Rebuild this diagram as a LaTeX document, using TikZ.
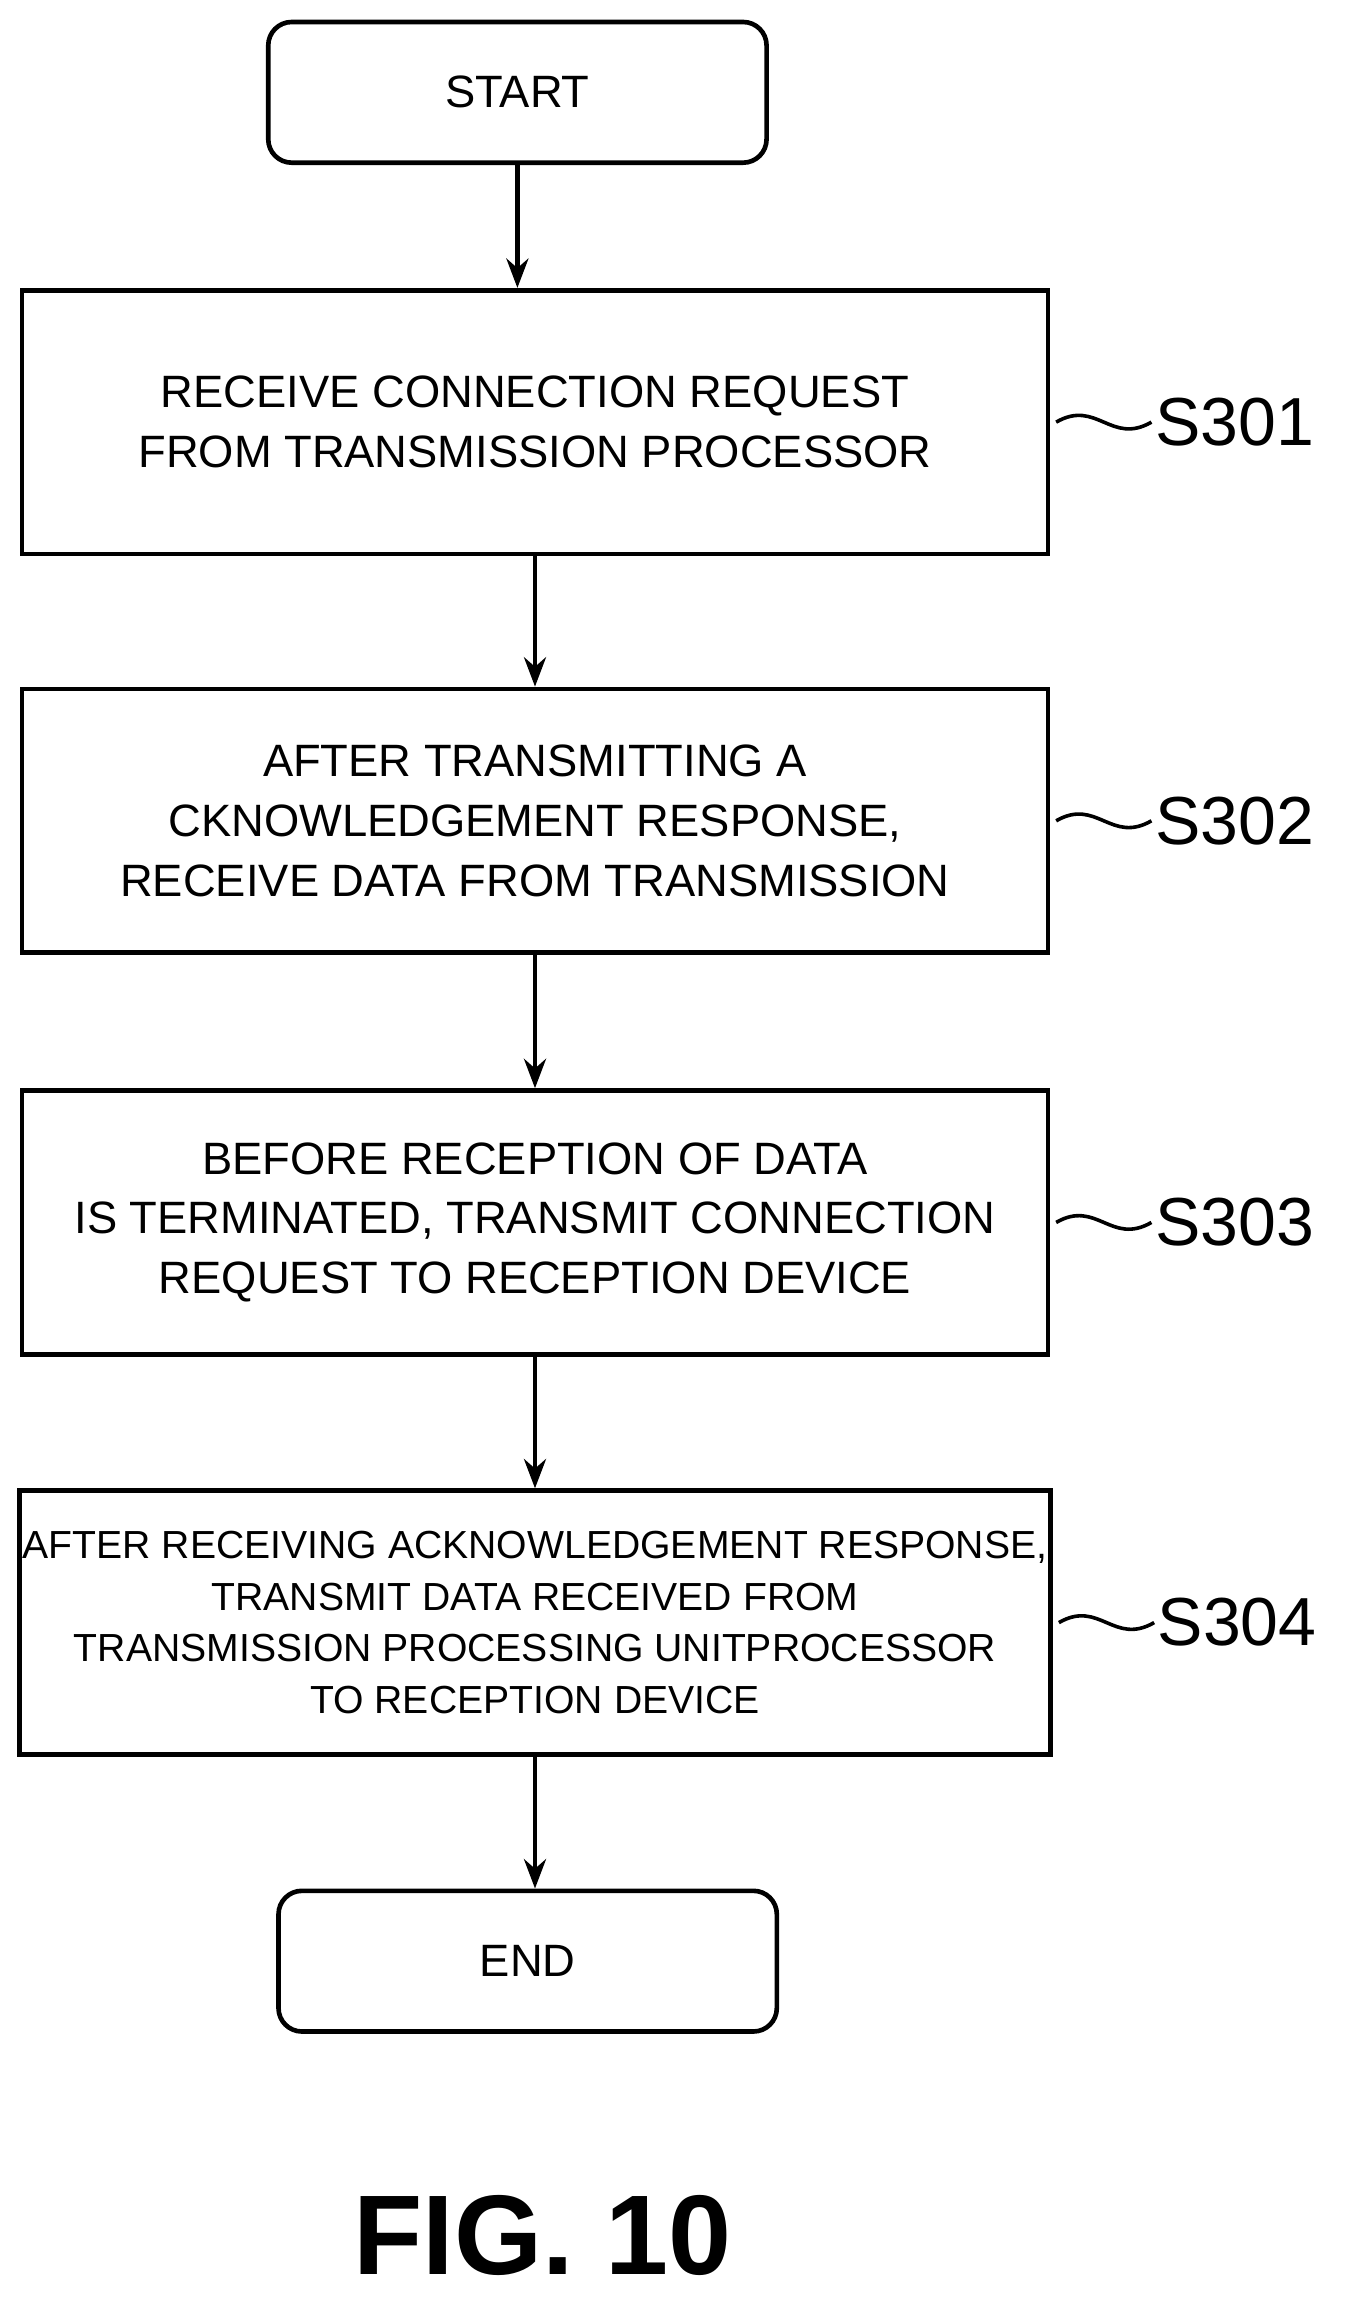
\documentclass[tikz,border=0pt]{standalone}
\usepackage{fontspec}
\setmainfont{Liberation Sans}
\usetikzlibrary{positioning,arrows.meta}

\tikzset{
    stepbox/.style={draw, line width=4.5pt, minimum width=35cm, minimum height=9cm, align=center, font=\fontsize{44}{58}\selectfont},
    term/.style={draw, line width=4.5pt, rounded corners=0.8cm, minimum width=17cm, minimum height=4.8cm, font=\fontsize{44}{56}\selectfont},
    flow/.style={line width=4.5pt, -{Stealth[length=1cm, width=0.75cm]}},
    lbl/.style={anchor=west, font=\fontsize{66}{72}\selectfont}
}

\begin{document}
\begin{tikzpicture}[x=0.05cm, y=-0.05cm]
    \useasboundingbox (0,0) rectangle (930,1576);
    % Terminals and steps
    \node[term] (start) at (353,63) {START};
    \node[stepbox] (s1) at (365,288) {RECEIVE CONNECTION REQUEST\\FROM TRANSMISSION PROCESSOR};
    \node[stepbox] (s2) at (365,560) {AFTER TRANSMITTING A\\CKNOWLEDGEMENT RESPONSE,\\RECEIVE DATA FROM TRANSMISSION};
    \node[stepbox] (s3) at (365,834) {BEFORE RECEPTION OF DATA\\IS TERMINATED, TRANSMIT CONNECTION\\REQUEST TO RECEPTION DEVICE};
    \node[stepbox, font=\fontsize{38}{50}\selectfont] (s4) at (365,1107) {AFTER RECEIVING ACKNOWLEDGEMENT RESPONSE,\\TRANSMIT DATA RECEIVED FROM\\TRANSMISSION PROCESSING UNITPROCESSOR\\TO RECEPTION DEVICE};
    \node[term] (end) at (360,1338) {END};
    % Arrows
    \draw[flow] (start) -- (start|-s1.north);
    \draw[flow] (s1) -- (s2);
    \draw[flow] (s2) -- (s3);
    \draw[flow] (s3) -- (s4);
    \draw[flow] (s4) -- (s4|-end.north);
    % Step labels
    \foreach \n/\t in {s1/S301, s2/S302, s3/S303, s4/S304} {
        \draw[line width=3.5pt] ([xshift=0.2cm]\n.east) .. controls +(30:1.6cm) and +(210:1.6cm) .. ++(65,0) coordinate (t\n);
        \node[lbl] at (t\n) {\t};
    }
    % Caption
    \node[font=\bfseries\fontsize{110}{120}\selectfont] (fig) at (370,1525) {FIG. 10};
\end{tikzpicture}
\end{document}
